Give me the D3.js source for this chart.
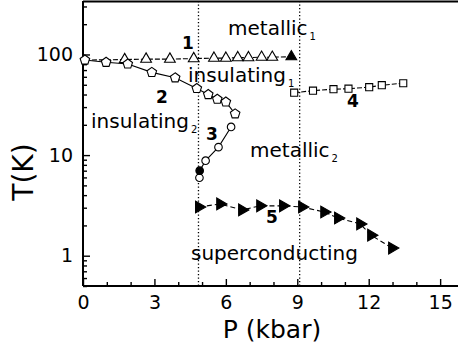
<!DOCTYPE html>
<html>
<head>
<meta charset="utf-8">
<script src="https://cdn.jsdelivr.net/npm/d3@7"></script>
<style>
  body { margin: 0; background: #fff; }
  svg { display: block; }
  text { font-family: "DejaVu Sans", sans-serif; fill: #000; }
</style>
</head>
<body>
<svg id="chart" width="458" height="347"></svg>
<script>
// Phase boundaries, T (K) against pressure P (kbar)
// 1: insulating1 -> metallic1 (open triangles, last point filled)
const s1P = [0.08, 1.75, 2.65, 3.65, 4.65, 5.5, 6.0, 6.5, 6.95, 7.5, 7.95, 8.75];
const s1T = [88, 89, 90, 90, 91, 92, 92, 93, 93, 94, 94, 95];
const s1Filled = [false, false, false, false, false, false, false, false, false, false, false, true];
// 2: insulating2 boundary (open pentagons)
const s2P = [0.08, 0.97, 1.88, 2.89, 3.87, 4.78, 5.26, 5.64, 6.0, 6.39];
const s2T = [88, 83.6, 80.4, 66.4, 58.6, 45.9, 40, 35.9, 33.7, 25.7];
// 3: insulating2 -> metallic2 (open circles, one filled)
const s3P = [4.89, 4.9, 5.15, 5.69, 6.22];
const s3T = [5.96, 7.0, 8.8, 12.0, 19.05];
const s3Filled = [false, true, false, false, false];
// 4: metallic1 boundary above 9 kbar (open squares)
const s4P = [8.87, 9.66, 10.52, 11.15, 12.02, 12.55, 13.45];
const s4T = [41.7, 43.7, 45.2, 45.7, 47.3, 49.5, 51.8];
// 5: superconducting transition (filled right-pointing triangles)
const s5P = [4.87, 5.76, 6.68, 7.44, 8.4, 9.2, 10.13, 10.71, 11.64, 12.1, 12.98];
const s5T = [3.05, 3.27, 2.85, 3.13, 3.13, 3.05, 2.72, 2.37, 2.07, 1.6, 1.19];

// Dotted phase separators
const dividerP = [4.85, 9.1];

// Ticks
const xMajor = [0, 3, 6, 9, 12, 15];
const xMinor = [1, 2, 4, 5, 7, 8, 10, 11, 13, 14];
const yMajor = [1, 10, 100];
const yMinor = [0.5, 0.6, 0.7, 0.8, 0.9, 2, 3, 4, 5, 6, 7, 8, 9, 20, 30, 40, 50, 60, 70, 80, 90, 200, 300];

const svg = d3.select("#chart");
const plotL = 83, plotR = 458, plotT = 1, plotB = 286;

const x = d3.scaleLinear().domain([0, 15.75]).range([plotL, plotR]);
const y = d3.scaleLog().domain([0.5, 340]).range([plotB, plotT]);

// Axes with inward ticks
const gx = svg.append("g").attr("transform", `translate(0,${plotB})`);
gx.call(d3.axisBottom(x).tickValues(xMinor).tickSizeInner(-4).tickSizeOuter(0).tickFormat(""));
gx.append("g").call(d3.axisBottom(x).tickValues(xMajor).tickSizeInner(-7).tickSizeOuter(0).tickPadding(10));
const gy = svg.append("g").attr("transform", `translate(${plotL},0)`);
gy.call(d3.axisLeft(y).tickValues(yMinor).tickSizeInner(-4).tickSizeOuter(0).tickFormat(""));
gy.append("g").call(d3.axisLeft(y).tickValues(yMajor).tickSizeInner(-7).tickSizeOuter(0).tickPadding(10).tickFormat(d3.format("d")));

svg.selectAll(".domain").remove();
svg.selectAll(".tick line").attr("stroke", "#000").attr("stroke-width", 1.4);
svg.selectAll(".tick text").attr("font-size", 19).attr("font-family", "DejaVu Sans").attr("fill", "#000");

// Frame lines
svg.append("line").attr("x1", plotL).attr("x2", plotR).attr("y1", plotB).attr("y2", plotB)
  .attr("stroke", "#000").attr("stroke-width", 2);
svg.append("line").attr("x1", plotL).attr("x2", plotL).attr("y1", plotT).attr("y2", plotB)
  .attr("stroke", "#000").attr("stroke-width", 2);
svg.append("line").attr("x1", plotL).attr("x2", plotR).attr("y1", plotT + 0.5).attr("y2", plotT + 0.5)
  .attr("stroke", "#000").attr("stroke-width", 2);

// Vertical dotted separators
svg.selectAll(".divider").data(dividerP).join("line")
  .attr("x1", d => x(d)).attr("x2", d => x(d))
  .attr("y1", plotT).attr("y2", plotB)
  .attr("stroke", "#000").attr("stroke-width", 1.3).attr("stroke-dasharray", "1.3,2.2");

// Symbol shapes
const pentagon = {
  draw(ctx, size) {
    const r = Math.sqrt(size / 2.38);
    for (let i = 0; i < 5; i++) {
      const a = -Math.PI / 2 + i * 2 * Math.PI / 5;
      const px = r * Math.cos(a), py = r * Math.sin(a);
      if (i === 0) ctx.moveTo(px, py); else ctx.lineTo(px, py);
    }
    ctx.closePath();
  }
};

const line = d3.line().x(d => x(d.p)).y(d => y(d.t));
function zipSeries(P, T, F) { return P.map((p, i) => ({ p, t: T[i], filled: F ? F[i] : false })); }

function drawSeries(data, opts) {
  svg.append("path").datum(data).attr("d", line)
    .attr("fill", "none").attr("stroke", "#000").attr("stroke-width", 1.1)
    .attr("stroke-dasharray", opts.dash || null);
  const pts = opts.skipFirst ? data.slice(1) : data;
  svg.append("g").selectAll("path").data(pts).join("path")
    .attr("transform", d => `translate(${x(d.p)},${y(d.t)}) rotate(${opts.rotate || 0})`)
    .attr("d", d3.symbol().type(opts.type).size(opts.size))
    .attr("fill", d => (opts.solid || d.filled) ? "#000" : "#fff")
    .attr("stroke", "#000").attr("stroke-width", 1.1);
}

drawSeries(zipSeries(s1P, s1T, s1Filled), { type: d3.symbolTriangle, size: 50, dash: "5,2", skipFirst: true });
drawSeries(zipSeries(s2P, s2T), { type: pentagon, size: 60 });
drawSeries(zipSeries(s3P, s3T, s3Filled), { type: d3.symbolCircle, size: 45 });
drawSeries(zipSeries(s4P, s4T), { type: d3.symbolSquare, size: 50, dash: "5,2" });
drawSeries(zipSeries(s5P, s5T), { type: d3.symbolTriangle, size: 60, dash: "5,3", rotate: 90, solid: true });

// Region labels with subscripts
function regionLabel(xPos, yPos, main, sub) {
  const t = svg.append("text").attr("x", xPos).attr("y", yPos).attr("font-size", 20).text(main);
  if (sub) t.append("tspan").attr("font-size", 10).attr("dx", 2).attr("dy", 5).text(sub);
}
regionLabel(228, 35, "metallic", "1");
regionLabel(188, 82, "insulating", "1");
regionLabel(91, 128, "insulating", "2");
regionLabel(250, 157, "metallic", "2");
regionLabel(191, 260, "superconducting");

// Curve numbers
const curveLabels = [
  { n: "1", x: 188, y: 49 },
  { n: "2", x: 162, y: 103 },
  { n: "3", x: 212, y: 140 },
  { n: "4", x: 353, y: 107 },
  { n: "5", x: 272, y: 223 }
];
svg.selectAll(".curve-num").data(curveLabels).join("text")
  .attr("x", d => d.x).attr("y", d => d.y)
  .attr("text-anchor", "middle").attr("font-size", 17).attr("font-weight", "bold")
  .text(d => d.n);

// Axis titles
svg.append("text").attr("x", 272).attr("y", 338).attr("text-anchor", "middle")
  .attr("font-size", 25).text("P (kbar)");
svg.append("text").attr("transform", "translate(33,172) rotate(-90)")
  .attr("text-anchor", "middle").attr("font-size", 28).text("T(K)");
</script>
</body>
</html>
